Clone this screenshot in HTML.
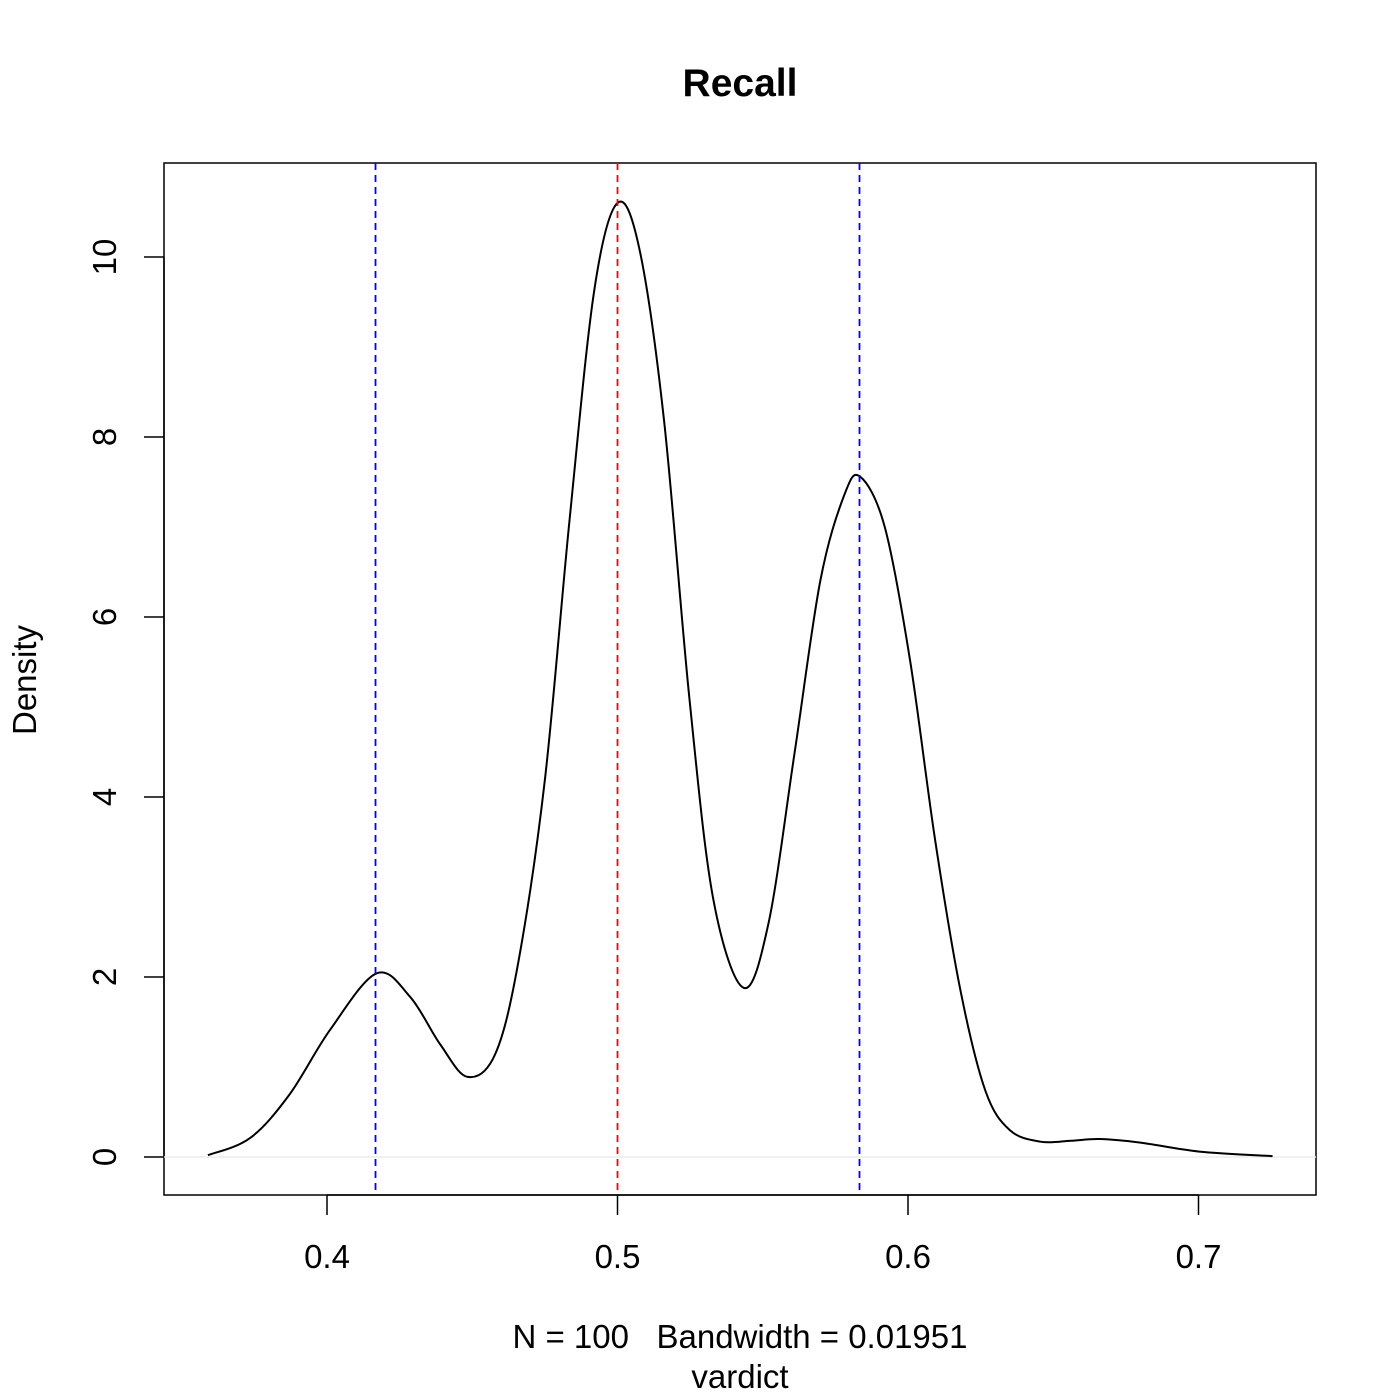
<!DOCTYPE html>
<html><head><meta charset="utf-8"><style>
html,body{margin:0;padding:0;background:#fff;}
svg{display:block;font-family:"Liberation Sans",Arial,sans-serif;}
</style></head><body>
<svg id="chart" width="1400" height="1400" viewBox="0 0 1400 1400">
<text x="740" y="96" text-anchor="middle" font-size="39" font-weight="bold">Recall</text>
<rect x="164" y="163" width="1152" height="1032" fill="none" stroke="#000" stroke-width="1.5"/>
<g id="xaxis"></g>
<g id="yaxis"></g>
<g id="marks"></g>
<text x="740" y="1348" text-anchor="middle" font-size="33" xml:space="preserve" style="white-space:pre">N = 100   Bandwidth = 0.01951</text>
<text x="740" y="1388" text-anchor="middle" font-size="33">vardict</text>
<text transform="translate(36,680) rotate(-90)" text-anchor="middle" font-size="33">Density</text>
</svg>
<script>
const xTicks=[0.4,0.5,0.6,0.7];
const yTicks=[0,2,4,6,8,10];
const densX=[0.359,0.3735,0.387,0.401,0.417,0.4286,0.439,0.4484,0.458,0.466,0.475,0.4835,0.492,0.5,0.5076,0.516,0.5248,0.533,0.5434,0.552,0.561,0.5698,0.578,0.5835,0.592,0.6007,0.6093,0.618,0.6266,0.635,0.6456,0.656,0.666,0.68,0.7003,0.7255];
const densY=[0.02,0.21,0.69,1.41,2.04,1.78,1.25,0.89,1.15,2.19,4.19,7.08,9.63,10.6,10.08,8.19,5.08,2.86,1.88,2.6,4.5,6.4,7.35,7.56,7.0,5.52,3.53,1.86,0.74,0.3,0.17,0.18,0.2,0.16,0.06,0.01];
const blueLines=[0.4167,0.5833];
const redLines=[0.5];
const NS="http://www.w3.org/2000/svg";
const sx=v=>327+(v-0.4)*2905;
const sy=v=>1157-v*90;
function mk(tag,attrs,parent){const e=document.createElementNS(NS,tag);for(const k in attrs)e.setAttribute(k,attrs[k]);parent.appendChild(e);return e;}
const xa=document.getElementById('xaxis'),ya=document.getElementById('yaxis'),mg=document.getElementById('marks');
mk('line',{x1:sx(xTicks[0]),x2:sx(xTicks[xTicks.length-1]),y1:1195,y2:1195,stroke:'#000','stroke-width':1.5},xa);
xTicks.forEach(t=>{
  const l=mk('line',{x1:sx(t),x2:sx(t),y1:1195,y2:1215,stroke:'#000','stroke-width':1.5},xa);
  
  
  const tx=mk('text',{x:sx(t),y:1268,'text-anchor':'middle','font-size':33},xa);tx.textContent=String(t);
  
  
});
mk('line',{x1:164,x2:164,y1:sy(yTicks[0]),y2:sy(yTicks[yTicks.length-1]),stroke:'#000','stroke-width':1.5},ya);
yTicks.forEach(t=>{
  const l=mk('line',{x1:144,x2:164,y1:sy(t),y2:sy(t),stroke:'#000','stroke-width':1.5},ya);
  
  
  const tx=mk('text',{transform:`translate(116,${sy(t)}) rotate(-90)`,'text-anchor':'middle','font-size':33},ya);tx.textContent=String(t);
  
  
});
const zl=mk('line',{x1:164,x2:1316,y1:sy(0),y2:sy(0),stroke:'#ececec','stroke-width':1.5},mg);


const pts=densX.map((x,i)=>[sx(x),sy(densY[i])]);
let d=`M${pts[0][0]},${pts[0][1]}`;
for(let i=0;i<pts.length-1;i++){
  const p0=pts[Math.max(0,i-1)],p1=pts[i],p2=pts[i+1],p3=pts[Math.min(pts.length-1,i+2)];
  const c1=[p1[0]+(p2[0]-p0[0])/6,p1[1]+(p2[1]-p0[1])/6];
  const c2=[p2[0]-(p3[0]-p1[0])/6,p2[1]-(p3[1]-p1[1])/6];
  d+=` C${c1[0]},${c1[1]} ${c2[0]},${c2[1]} ${p2[0]},${p2[1]}`;
}
const cv=mk('path',{d:d,fill:'none',stroke:'#000','stroke-width':2},mg);


blueLines.forEach(v=>{
  const l=mk('line',{x1:sx(v),x2:sx(v),y1:163,y2:1195,stroke:'#0000ff','stroke-width':1.8,'stroke-dasharray':'7,5'},mg);
  
  
});
redLines.forEach(v=>{
  const l=mk('line',{x1:sx(v),x2:sx(v),y1:163,y2:1195,stroke:'#ff0000','stroke-width':1.8,'stroke-dasharray':'7,5'},mg);
  
  
});
</script>
</body></html>
